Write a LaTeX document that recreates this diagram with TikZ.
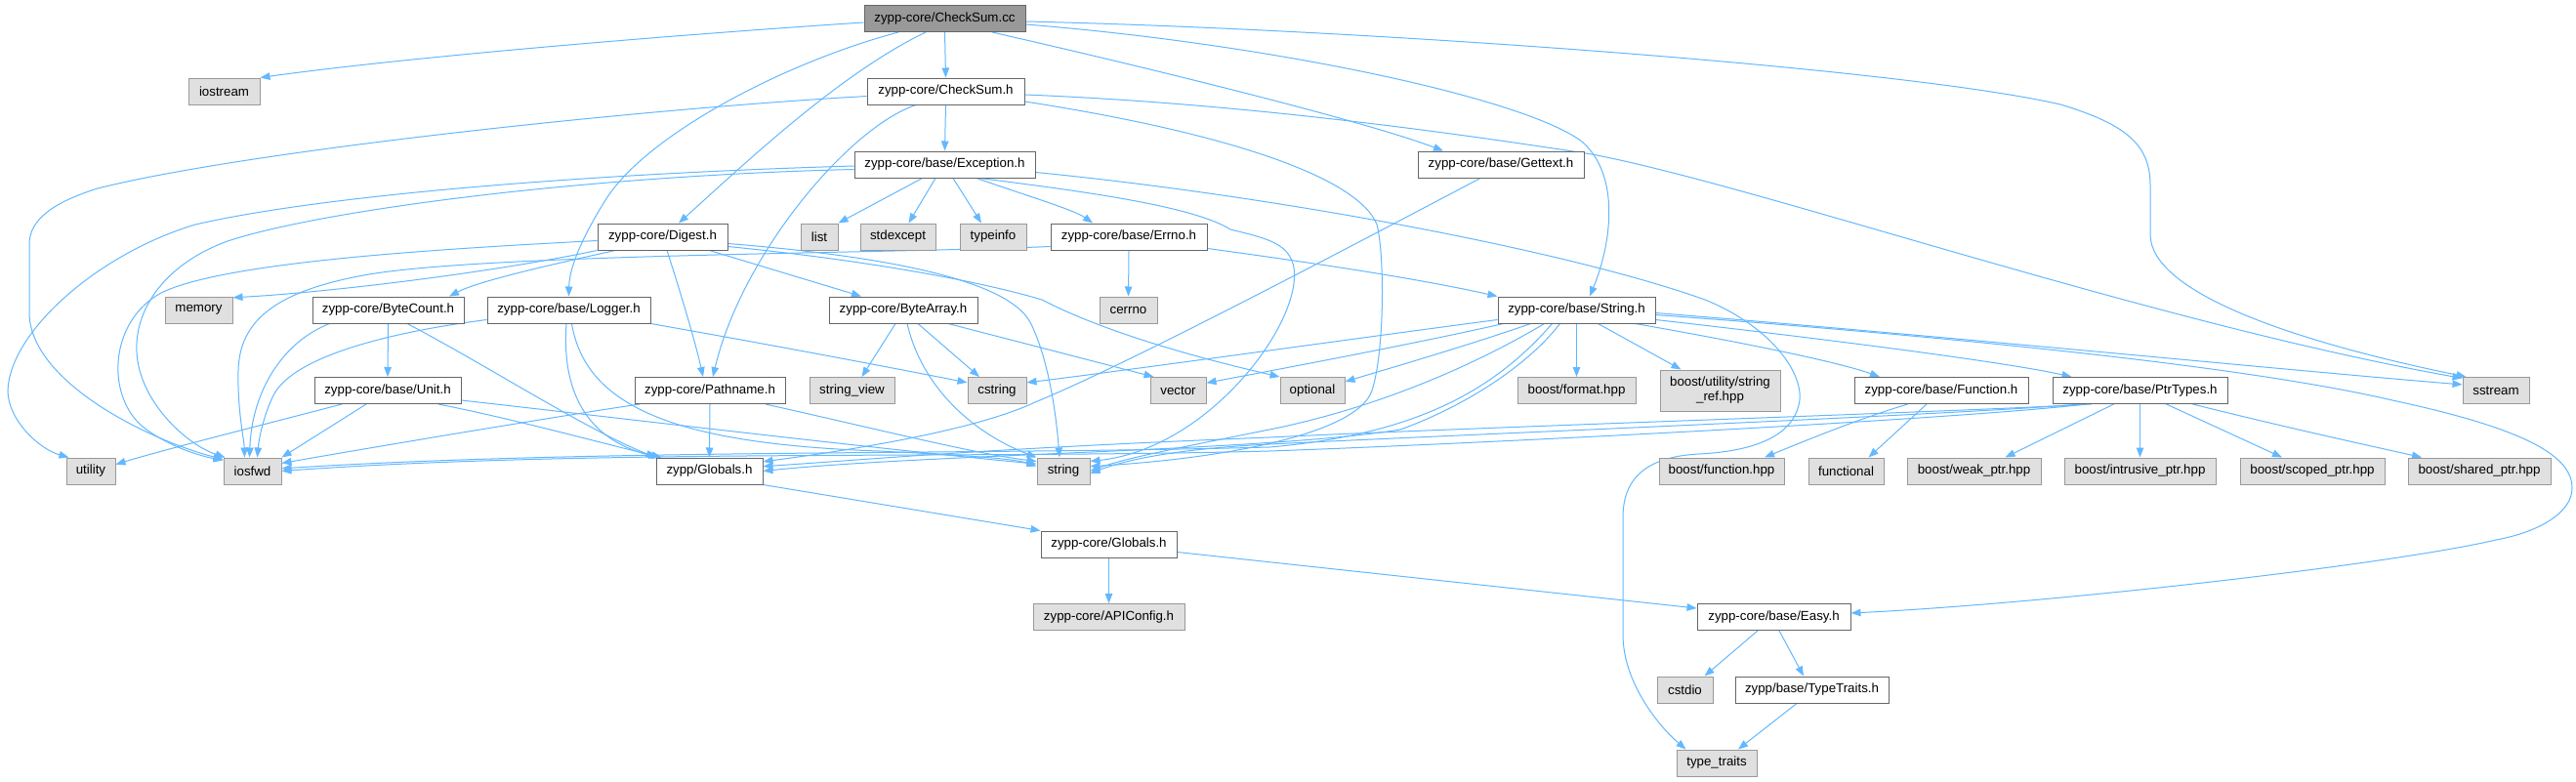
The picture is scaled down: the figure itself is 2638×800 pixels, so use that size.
\documentclass[tikz,border=0pt]{standalone}
\usepackage{fontspec}
\setmainfont{Liberation Sans}
\usetikzlibrary{arrows.meta}
\definecolor{edgec}{HTML}{63B8FF}
\definecolor{docb}{HTML}{666666}
\definecolor{extf}{HTML}{E0E0E0}
\definecolor{extb}{HTML}{999999}
\definecolor{rootf}{HTML}{999999}
\pgfdeclarelayer{bgfill}
\pgfdeclarelayer{edges}
\pgfsetlayers{bgfill,edges,main}
\begin{document}
\begin{tikzpicture}[x=1pt,y=-1pt,
 box/.style={draw=docb,fill=white,line width=1pt,minimum height=27pt,inner sep=0pt,font=\fontsize{13.3}{15}\selectfont,text=black,align=center},
 ext/.style={box,draw=extb,fill=extf},
 rootbox/.style={box,draw=docb,fill=rootf},
 edge/.style={draw=edgec,line width=1pt,-{Triangle[length=10pt,width=7.5pt]}}]
\begin{pgfonlayer}{bgfill}
\fill[white] (0,0) rectangle (2638,800);
\end{pgfonlayer}
\useasboundingbox (0,0) rectangle (2638,800);

\node[rootbox,minimum width=165pt] (cc) at (967.5,19) {zypp-core/CheckSum.cc};
\node[ext,minimum width=73pt] (iostream) at (229.5,93.5) {iostream};
\node[box,minimum width=161pt] (ch) at (968.5,93.5) {zypp-core/CheckSum.h};
\node[box,minimum width=185pt] (exc) at (967.5,168.5) {zypp-core/base/Exception.h};
\node[box,minimum width=170pt] (gettext) at (1537,168.5) {zypp-core/base/Gettext.h};
\node[box,minimum width=133pt] (digest) at (678.5,242.5) {zypp-core/Digest.h};
\node[ext,minimum width=38pt] (list) at (839,242.5) {list};
\node[ext,minimum width=77pt] (stdexcept) at (919.5,242.5) {stdexcept};
\node[ext,minimum width=68pt] (typeinfo) at (1017,242.5) {typeinfo};
\node[box,minimum width=160pt] (errno) at (1156,242.5) {zypp-core/base/Errno.h};
\node[ext,minimum width=69pt] (memory) at (203.5,317.5) {memory};
\node[box,minimum width=155pt] (bytecount) at (397.5,317.5) {zypp-core/ByteCount.h};
\node[box,minimum width=167pt] (logger) at (582.5,317.5) {zypp-core/base/Logger.h};
\node[box,minimum width=152pt] (bytearray) at (925,317.5) {zypp-core/ByteArray.h};
\node[ext,minimum width=59pt] (cerrno) at (1155.5,317.5) {cerrno};
\node[box,minimum width=161pt] (stringh) at (1614.5,317.5) {zypp-core/base/String.h};
\node[box,minimum width=150pt] (unit) at (397,400) {zypp-core/base/Unit.h};
\node[box,minimum width=154pt] (pathname) at (727,400) {zypp-core/Pathname.h};
\node[ext,minimum width=87pt] (stringview) at (872.5,400) {string\_view};
\node[ext,minimum width=60pt] (cstring) at (1021,400) {cstring};
\node[ext,minimum width=57pt] (vector) at (1206.5,400) {vector};
\node[ext,minimum width=66pt] (optional) at (1344,400) {optional};
\node[ext,minimum width=121pt] (format) at (1614.5,400) {boost/format.hpp};
\node[ext,minimum width=123pt,minimum height=42pt] (stringref) at (1761.5,400) {boost/utility/string\\\_ref.hpp};
\node[box,minimum width=178pt] (function) at (1988,400) {zypp-core/base/Function.h};
\node[box,minimum width=179pt] (ptrtypes) at (2191.5,400) {zypp-core/base/PtrTypes.h};
\node[ext,minimum width=68pt] (sstream) at (2556,400) {sstream};
\node[ext,minimum width=50pt] (utility) at (93,482.5) {utility};
\node[ext,minimum width=59pt] (iosfwd) at (258.5,482.5) {iosfwd};
\node[box,minimum width=109pt] (zglobals) at (726.5,482.5) {zypp/Globals.h};
\node[ext,minimum width=54pt] (string) at (1089,482.5) {string};
\node[ext,minimum width=128pt] (bfunction) at (1763,482.5) {boost/function.hpp};
\node[ext,minimum width=77pt] (functional) at (1890.5,482.5) {functional};
\node[ext,minimum width=137pt] (weak) at (2021.5,482.5) {boost/weak\_ptr.hpp};
\node[ext,minimum width=155pt] (intrusive) at (2191.5,482.5) {boost/intrusive\_ptr.hpp};
\node[ext,minimum width=148pt] (scoped) at (2368,482.5) {boost/scoped\_ptr.hpp};
\node[ext,minimum width=146pt] (shared) at (2539,482.5) {boost/shared\_ptr.hpp};
\node[box,minimum width=139pt] (cglobals) at (1135.5,557.5) {zypp-core/Globals.h};
\node[ext,minimum width=155pt] (apiconfig) at (1135.5,632) {zypp-core/APIConfig.h};
\node[box,minimum width=157pt] (easy) at (1816.5,632) {zypp-core/base/Easy.h};
\node[ext,minimum width=57pt] (cstdio) at (1725.5,706.5) {cstdio};
\node[box,minimum width=157pt] (typetraits) at (1855.5,706.5) {zypp/base/TypeTraits.h};
\node[ext,minimum width=82pt] (typetraitsx) at (1758,781.5) {type\_traits};

\begin{pgfonlayer}{edges}
% CheckSum.cc
\draw[edge] ([yshift=-4pt]cc.west) .. controls (700,35) and (420,58) .. (iostream.north east);
\draw[edge] (cc.south) -- (ch.north);
\draw[edge] ([xshift=-19.5pt]cc.south) .. controls (860,75) and (760,170) .. ([xshift=16.5pt]digest.north);
\draw[edge] ([xshift=-47.5pt]cc.south) .. controls (800,65) and (660,140) .. (620,205) .. controls (595,245) and (583,275) .. (logger.north);
\draw[edge] ([xshift=48.5pt]cc.south) .. controls (1200,75) and (1400,125) .. ([xshift=-59pt]gettext.north);
\draw[edge] ([yshift=-6pt]cc.east) .. controls (1300,45) and (1560,100) .. (1620,145) .. controls (1660,180) and (1650,250) .. ([xshift=13.5pt]stringh.north);
\draw[edge] ([yshift=-3pt]cc.east) .. controls (1400,30) and (1950,70) .. (2110,107) .. controls (2180,128) and (2202,150) .. (2202,190) -- (2202,240) .. controls (2202,300) and (2350,350) .. ([xshift=4pt]sstream.north west);
% CheckSum.h
\draw[edge] ([yshift=-5pt]ch.west) .. controls (650,112) and (250,155) .. (100,193) .. controls (55,207) and (30,225) .. (30,250) -- (30,320) .. controls (30,390) and (150,450) .. ([yshift=-2pt]iosfwd.north west);
\draw[edge] ([xshift=-30.5pt]ch.south) .. controls (870,130) and (760,260) .. ([xshift=3pt]pathname.north);
\draw[edge] (ch.south) -- (exc.north);
\draw[edge] ([yshift=-3.5pt]ch.east) .. controls (1250,105) and (1450,130) .. (1630,158) .. controls (1800,190) and (2200,330) .. (sstream.160);
\draw[edge] ([yshift=-10.5pt]ch.east) .. controls (1250,135) and (1390,180) .. (1410,230) .. controls (1418,260) and (1418,360) .. (1405,400) .. controls (1390,445) and (1250,470) .. (string.10);
% Exception.h
\draw[edge] ([yshift=-1.5pt]exc.west) .. controls (600,178) and (330,200) .. (200,230) .. controls (100,260) and (10,340) .. (8,400) .. controls (8,430) and (40,460) .. ([xshift=3pt]utility.north west);
\draw[edge] ([yshift=-5pt]exc.west) .. controls (600,180) and (330,215) .. (233,247) .. controls (165,272) and (138,320) .. (140,360) .. controls (142,410) and (190,455) .. ([xshift=2pt]iosfwd.north west);
\draw[edge] ([xshift=-23pt]exc.south) -- (list.north east);
\draw[edge] ([xshift=-9.5pt]exc.south) -- ([xshift=11pt]stdexcept.north);
\draw[edge] ([xshift=8.5pt]exc.south) -- ([xshift=-12pt]typeinfo.north);
\draw[edge] ([xshift=32.5pt]exc.south) .. controls (1050,200) and (1100,215) .. ([xshift=-37pt]errno.north);
\draw[edge] ([xshift=36pt]exc.south) .. controls (1100,195) and (1220,210) .. (1260,235) .. controls (1300,245) and (1330,250) .. (1325,290) .. controls (1318,350) and (1230,460) .. (string.20);
\draw[edge] ([yshift=-8pt]exc.east) .. controls (1300,200) and (1600,255) .. (1746,307) .. controls (1815,335) and (1850,385) .. (1842,415) .. controls (1835,445) and (1800,462) .. (1740,465) .. controls (1680,468) and (1662,495) .. (1662,530) -- (1662,650) .. controls (1662,700) and (1700,745) .. ([xshift=10pt]typetraitsx.north west);
% Digest.h
\draw[edge] (digest.south west) .. controls (500,280) and (330,300) .. (memory.20);
\draw[edge] ([xshift=-48.5pt]digest.south) .. controls (560,272) and (490,288) .. ([xshift=62.5pt]bytecount.north);
\draw[edge] ([yshift=-4pt]digest.west) .. controls (450,255) and (230,268) .. (165,300) .. controls (110,330) and (108,410) .. (150,440) .. controls (175,458) and (205,467) .. ([yshift=-3pt]iosfwd.north west);
\draw[edge] ([xshift=48pt]digest.south) -- ([xshift=-43pt]bytearray.north);
\draw[edge] ([xshift=4.5pt]digest.south) .. controls (697,300) and (712,350) .. ([xshift=-7pt]pathname.north);
\draw[edge] ([yshift=-7pt]digest.east) .. controls (900,262) and (1030,285) .. (1055,330) .. controls (1075,370) and (1082,430) .. ([xshift=-4pt]string.north);
\draw[edge] ([yshift=-10pt]digest.east) .. controls (900,268) and (1010,290) .. (1067,307) .. controls (1140,345) and (1250,372) .. (optional.north west);
% Errno.h
\draw[edge] (errno.south) -- (cerrno.north);
\draw[edge] ([yshift=-10pt]errno.west) .. controls (900,260) and (480,260) .. (367,283) .. controls (280,300) and (245,330) .. (244,380) .. controls (243,420) and (250,450) .. ([xshift=-8pt]iosfwd.north);
\draw[edge] ([yshift=-12pt]errno.east) .. controls (1350,270) and (1450,285) .. (stringh.north west);
% ByteCount.h
\draw[edge] (bytecount.south) -- (unit.north);
\draw[edge] ([xshift=-60pt]bytecount.south) .. controls (290,350) and (258,400) .. ([xshift=-3pt]iosfwd.north);
\draw[edge] ([xshift=19.5pt]bytecount.south) .. controls (500,375) and (600,440) .. (zglobals.north west);
% Logger.h
\draw[edge] ([yshift=-10pt]logger.west) .. controls (400,340) and (300,365) .. (280,405) .. controls (270,425) and (265,450) .. ([xshift=5pt]iosfwd.north);
\draw[edge] ([xshift=-2.5pt]logger.south) .. controls (575,400) and (600,450) .. ([xshift=3pt]zglobals.north west);
\draw[edge] ([xshift=3pt]logger.south) .. controls (600,420) and (700,455) .. (900,462) .. controls (1000,467) and (1040,470) .. (string.170);
\draw[edge] (logger.south east) .. controls (800,355) and (920,378) .. (cstring.165);
% Unit.h
\draw[edge] ([xshift=-47pt]unit.south) .. controls (270,435) and (170,460) .. (utility.15);
\draw[edge] ([xshift=-22pt]unit.south) -- (iosfwd.north east);
\draw[edge] ([xshift=52pt]unit.south) .. controls (530,430) and (620,455) .. ([xshift=6pt]zglobals.north west);
\draw[edge] ([yshift=-10pt]unit.east) .. controls (650,430) and (900,460) .. (string.165);
% Pathname.h
\draw[edge] (pathname.south) -- (zglobals.north);
\draw[edge] ([xshift=-72pt]pathname.south) .. controls (580,425) and (400,455) .. (iosfwd.15);
\draw[edge] ([xshift=57pt]pathname.south) .. controls (900,440) and (1000,465) .. (string.160);
% ByteArray.h
\draw[edge] ([xshift=-8pt]bytearray.south) -- ([xshift=10pt]stringview.north);
\draw[edge] ([xshift=4pt]bytearray.south) .. controls (945,400) and (1000,445) .. (string.north west);
\draw[edge] ([xshift=15pt]bytearray.south) -- ([xshift=-18pt]cstring.north);
\draw[edge] ([xshift=46pt]bytearray.south) -- ([xshift=-25pt]vector.north);
% String.h
\draw[edge] ([yshift=-10pt]stringh.west) .. controls (1400,345) and (1150,380) .. (cstring.15);
\draw[edge] ([xshift=-75pt]stringh.south) .. controls (1450,352) and (1300,380) .. (vector.15);
\draw[edge] ([xshift=-47pt]stringh.south) .. controls (1500,355) and (1420,378) .. (optional.15);
\draw[edge] ([xshift=-33pt]stringh.south) .. controls (1500,380) and (1400,420) .. (1300,440) .. controls (1200,460) and (1150,470) .. (string.east);
\draw[edge] ([xshift=-17pt]stringh.south) .. controls (1560,380) and (1490,420) .. (1434,440) .. controls (1300,462) and (950,465) .. (zglobals.east);
\draw[edge] ([xshift=-25pt]stringh.south) .. controls (1530,400) and (1450,445) .. (1300,458) .. controls (1000,466) and (600,460) .. (iosfwd.5);
\draw[edge] (stringh.south) -- (format.north);
\draw[edge] ([xshift=22pt]stringh.south) -- ([xshift=-40pt]stringref.north);
\draw[edge] ([xshift=60pt]stringh.south) .. controls (1780,350) and (1880,370) .. ([xshift=-63pt]function.north);
\draw[edge] ([yshift=-10pt]stringh.east) .. controls (1850,345) and (2050,370) .. ([xshift=-70pt]ptrtypes.north);
\draw[edge] ([yshift=-3pt]stringh.east) .. controls (2000,345) and (2350,380) .. (sstream.170);
\draw[edge] ([yshift=-5pt]stringh.east) .. controls (2000,345) and (2300,375) .. (2450,410) .. controls (2590,440) and (2634,468) .. (2634,500) .. controls (2634,525) and (2600,545) .. (2556,553) .. controls (2450,578) and (2100,618) .. ([yshift=4pt]easy.east);
% PtrTypes.h
\draw[edge] ([xshift=-27pt]ptrtypes.south) -- ([xshift=32pt]weak.north);
\draw[edge] (ptrtypes.south) -- (intrusive.north);
\draw[edge] ([xshift=27pt]ptrtypes.south) -- ([xshift=-31pt]scoped.north);
\draw[edge] ([xshift=54pt]ptrtypes.south) .. controls (2350,440) and (2420,455) .. ([xshift=-59pt]shared.north);
\draw[edge] ([xshift=-55pt]ptrtypes.south) .. controls (2000,430) and (1500,455) .. (1300,462) .. controls (1000,470) and (600,460) .. (iosfwd.east);
\draw[edge] ([xshift=-60pt]ptrtypes.south) .. controls (2000,425) and (1500,445) .. (1300,455) .. controls (1200,460) and (1150,472) .. (string.-5);
\draw[edge] ([xshift=-50pt]ptrtypes.south) .. controls (2000,422) and (1500,438) .. (1300,448) .. controls (1000,460) and (900,470) .. (zglobals.5);
% Function.h
\draw[edge] ([xshift=-34.5pt]function.south) .. controls (1900,430) and (1840,455) .. ([xshift=44pt]bfunction.north);
\draw[edge] ([xshift=-15pt]function.south) -- ([xshift=23pt]functional.north);
% Gettext.h
\draw[edge] ([xshift=-21pt]gettext.south) .. controls (1350,270) and (1150,375) .. (1060,412) .. controls (1000,440) and (880,460) .. (zglobals.10);
% Globals
\draw[edge] (zglobals.south east) -- (cglobals.north west);
\draw[edge] (cglobals.south) -- (apiconfig.north);
\draw[edge] ([yshift=-8pt]cglobals.east) -- ([yshift=9pt]easy.west);
% Easy.h
\draw[edge] ([xshift=-16.5pt]easy.south) -- ([xshift=20pt]cstdio.north);
\draw[edge] ([xshift=5.5pt]easy.south) -- ([xshift=-8.5pt]typetraits.north);
\draw[edge] ([xshift=-15.5pt]typetraits.south) -- ([xshift=22pt]typetraitsx.north);
\end{pgfonlayer}
\end{tikzpicture}
\end{document}
